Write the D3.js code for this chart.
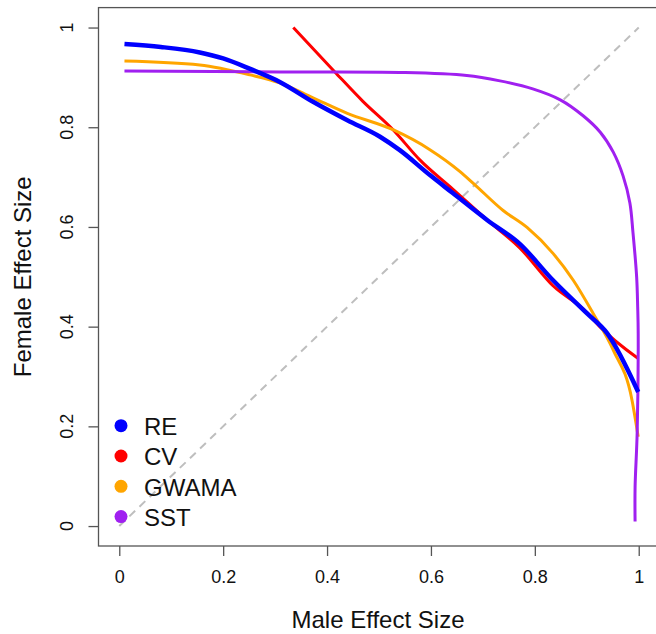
<!DOCTYPE html>
<html>
<head>
<meta charset="utf-8">
<script src="https://cdn.jsdelivr.net/npm/d3@7"></script>
<style>
  body { margin: 0; background: #fff; }
  svg { display: block; font-family: "Liberation Sans", Arial, sans-serif; }
</style>
</head>
<body>
<div id="chart"></div>
<script>
// values
var reX = [0.01, 0.08, 0.155, 0.20, 0.252, 0.309, 0.373, 0.439, 0.502, 0.540, 0.598, 0.642, 0.708, 0.771, 0.835, 0.900, 0.939, 0.999];
var reY = [0.967, 0.961, 0.950, 0.938, 0.917, 0.891, 0.851, 0.814, 0.781, 0.754, 0.704, 0.668, 0.614, 0.566, 0.493, 0.427, 0.387, 0.269];

var cvX = [0.335, 0.415, 0.469, 0.527, 0.579, 0.642, 0.708, 0.771, 0.835, 0.900, 0.925, 0.999];
var cvY = [1.000, 0.911, 0.852, 0.795, 0.734, 0.676, 0.614, 0.558, 0.482, 0.429, 0.400, 0.336];

var gwamaX = [0.01, 0.155, 0.252, 0.309, 0.373, 0.439, 0.527, 0.598, 0.656, 0.681, 0.739, 0.785, 0.835, 0.874, 0.912, 0.951, 0.987, 0.999];
var gwamaY = [0.933, 0.925, 0.905, 0.889, 0.859, 0.828, 0.795, 0.755, 0.711, 0.688, 0.633, 0.599, 0.547, 0.493, 0.427, 0.353, 0.253, 0.179];

var sstX = [0.01, 0.309, 0.540, 0.669, 0.733, 0.796, 0.849, 0.893, 0.926, 0.951, 0.970, 0.983, 0.989, 0.996, 0.998, 0.999, 0.997, 0.993, 0.993];
var sstY = [0.913, 0.911, 0.910, 0.904, 0.893, 0.877, 0.855, 0.823, 0.790, 0.750, 0.702, 0.648, 0.588, 0.500, 0.440, 0.387, 0.187, 0.078, 0.009];

var methods = ["RE", "CV", "GWAMA", "SST"];
var colors = ["#0000FF", "#FF0000", "#FFA500", "#A020F0"];
var ticks = [0, 0.2, 0.4, 0.6, 0.8, 1];
var tickLabels = ["0", "0.2", "0.4", "0.6", "0.8", "1"];

var W = 656, H = 634;

var svg = d3.select("#chart")
  .append("svg")
  .attr("width", W)
  .attr("height", H);

var x = d3.scaleLinear().domain([-0.04, 1.04]).range([98.5, 659.5]);
var y = d3.scaleLinear().domain([-0.04, 1.04]).range([546, 7.6]);

// plot box
svg.append("rect")
  .attr("x", x(-0.04)).attr("y", y(1.04))
  .attr("width", x(1.04) - x(-0.04))
  .attr("height", y(-0.04) - y(1.04))
  .style("fill", "none")
  .style("stroke", "#555")
  .style("stroke-width", 1.3);

// axes
var xAxis = svg.append("g")
  .attr("transform", "translate(0," + y(-0.04) + ")")
  .call(d3.axisBottom(x).tickValues(ticks).tickSize(10).tickPadding(14)
    .tickFormat(function(d, i) { return tickLabels[i]; }));
xAxis.select(".domain").remove();
xAxis.selectAll("line").style("stroke", "#555").style("stroke-width", 1.3);
xAxis.selectAll("text").style("font-size", "18px").style("fill", "#111")
  .style("font-family", "Liberation Sans, Arial, sans-serif");

var yAxis = svg.append("g")
  .attr("transform", "translate(" + x(-0.04) + ",0)")
  .call(d3.axisLeft(y).tickValues(ticks).tickSize(10).tickFormat(""));
yAxis.select(".domain").remove();
yAxis.selectAll("line").style("stroke", "#555").style("stroke-width", 1.3);

svg.append("g").selectAll("text")
  .data(ticks)
  .enter().append("text")
  .attr("transform", function(d) { return "translate(72.5," + y(d) + ") rotate(-90)"; })
  .attr("text-anchor", "middle")
  .style("font-size", "18px")
  .style("fill", "#111")
  .text(function(d, i) { return tickLabels[i]; });

// axis titles
svg.append("text")
  .attr("x", (x(-0.04) + x(1.04)) / 2 - 1)
  .attr("y", 628)
  .attr("text-anchor", "middle")
  .style("font-size", "24px")
  .style("fill", "#111")
  .text("Male Effect Size");

svg.append("text")
  .attr("transform", "translate(31," + ((y(-0.04) + y(1.04)) / 2) + ") rotate(-90)")
  .attr("text-anchor", "middle")
  .style("font-size", "24px")
  .style("fill", "#111")
  .text("Female Effect Size");

// diagonal reference
svg.append("line")
  .attr("x1", x(0)).attr("y1", y(0))
  .attr("x2", x(1)).attr("y2", y(1))
  .style("stroke", "#BEBEBE")
  .style("stroke-width", 2)
  .style("stroke-dasharray", "8,6");

var lineX = d3.line()
  .x(function(d) { return x(d[0]); })
  .y(function(d) { return y(d[1]); })
  .curve(d3.curveMonotoneX);

// SST folds back in x near the end, so it needs a curve that does not assume monotone x
var lineFree = d3.line()
  .x(function(d) { return x(d[0]); })
  .y(function(d) { return y(d[1]); })
  .curve(d3.curveCatmullRom.alpha(0.5));

var series = [
  { name: "CV", xs: cvX, ys: cvY, w: 3, gen: lineX },
  { name: "GWAMA", xs: gwamaX, ys: gwamaY, w: 3, gen: lineX },
  { name: "SST", xs: sstX, ys: sstY, w: 3, gen: lineFree },
  { name: "RE", xs: reX, ys: reY, w: 4.5, gen: lineX }
];

svg.append("g").selectAll("path")
  .data(series)
  .enter().append("path")
  .attr("d", function(s) { return s.gen(d3.zip(s.xs, s.ys)); })
  .style("fill", "none")
  .style("stroke", function(s) { return colors[methods.indexOf(s.name)]; })
  .style("stroke-width", function(s) { return s.w; })
  .style("stroke-linecap", "butt");

// legend
var legend = svg.append("g").selectAll("g")
  .data(methods)
  .enter().append("g")
  .attr("transform", function(d, i) { return "translate(121," + (425.7 + i * 30.3) + ")"; });

legend.append("circle")
  .attr("r", 6.5)
  .style("fill", function(d, i) { return colors[i]; });

legend.append("text")
  .attr("x", 23)
  .attr("y", 9.3)
  .style("font-size", "24px")
  .style("fill", "#111")
  .text(function(d) { return d; });
</script>
</body>
</html>
